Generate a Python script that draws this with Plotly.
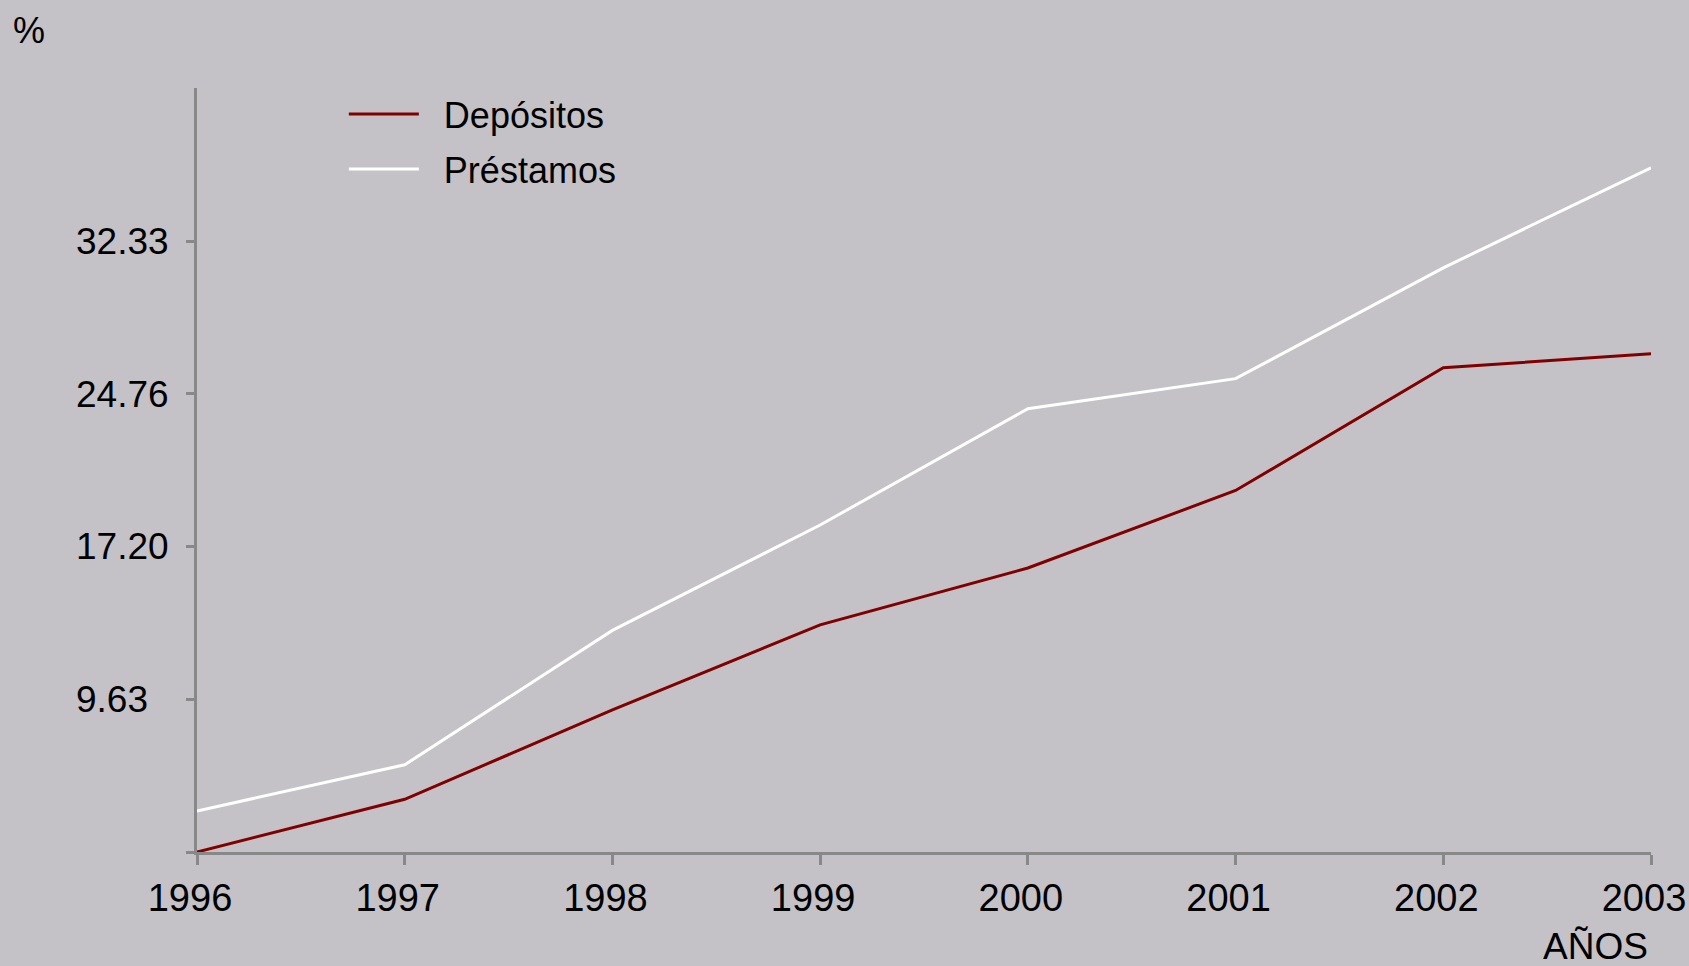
import plotly.graph_objects as go

years = [1996, 1997, 1998, 1999, 2000, 2001, 2002, 2003]
depositos = [2.06, 4.67, 9.10, 13.31, 16.13, 19.97, 26.05, 26.74]
prestamos = [4.09, 6.38, 13.04, 18.26, 24.02, 25.51, 31.00, 35.96]

y_ticks = [2.06, 9.63, 17.20, 24.76, 32.33]
y_labels = ["", "9.63\u00a0\u00a0", "17.20", "24.76", "32.33"]
y_range = [2.06, 39.91]

BG = "#c4c2c6"
AXIS = "#888888"
FONT = "Liberation Sans, Arial, sans-serif"
PAD = "\u00a0\u00a0"  # gap between legend swatch and label

fig = go.Figure()
fig.add_trace(go.Scatter(x=years, y=depositos, mode="lines", name=PAD + "Depósitos",
                         legendgroup="dep",
                         line=dict(color="#800000", width=3)))
fig.add_trace(go.Scatter(x=years, y=prestamos, mode="lines", name=PAD + "Préstamos",
                         legendgroup="pre",
                         line=dict(color="#ffffff", width=3)))

fig.update_layout(
    width=1689, height=966,
    paper_bgcolor=BG, plot_bgcolor=BG,
    margin=dict(l=197, r=38, t=88, b=114, autoexpand=False),
    font=dict(family=FONT, size=38, color="#000000"),
    showlegend=True,
    legend=dict(x=0.101, y=1.005, xanchor="left", yanchor="top",
                bgcolor="rgba(0,0,0,0)", font=dict(family=FONT, size=36),
                itemwidth=70, tracegroupgap=5),
    xaxis=dict(range=[1996, 2003], tickvals=years, ticktext=[str(y) for y in years],
               automargin=False,
               showgrid=False, zeroline=False, showline=True, linecolor=AXIS, linewidth=3,
               ticks="outside", ticklen=10, tickwidth=3, tickcolor=AXIS,
               ticklabelshift=-7, ticklabeloverflow="allow",
               tickfont=dict(family=FONT, size=38)),
    yaxis=dict(range=y_range, tickvals=y_ticks, ticktext=y_labels,
               automargin=False,
               showgrid=False, zeroline=False, showline=True, linecolor=AXIS, linewidth=3,
               ticks="outside", ticklen=8, tickwidth=3, tickcolor=AXIS,
               ticklabelstandoff=10,
               tickfont=dict(family=FONT, size=37)),
    annotations=[
        dict(text="%", xref="paper", yref="paper", x=-0.128, y=1.105,
             showarrow=False, font=dict(family=FONT, size=36)),
        dict(text="AÑOS", xref="paper", yref="paper", x=0.999, y=-0.153,
             xanchor="right", showarrow=False, font=dict(family=FONT, size=37)),
    ],
)

fig.write_html("out.html")
